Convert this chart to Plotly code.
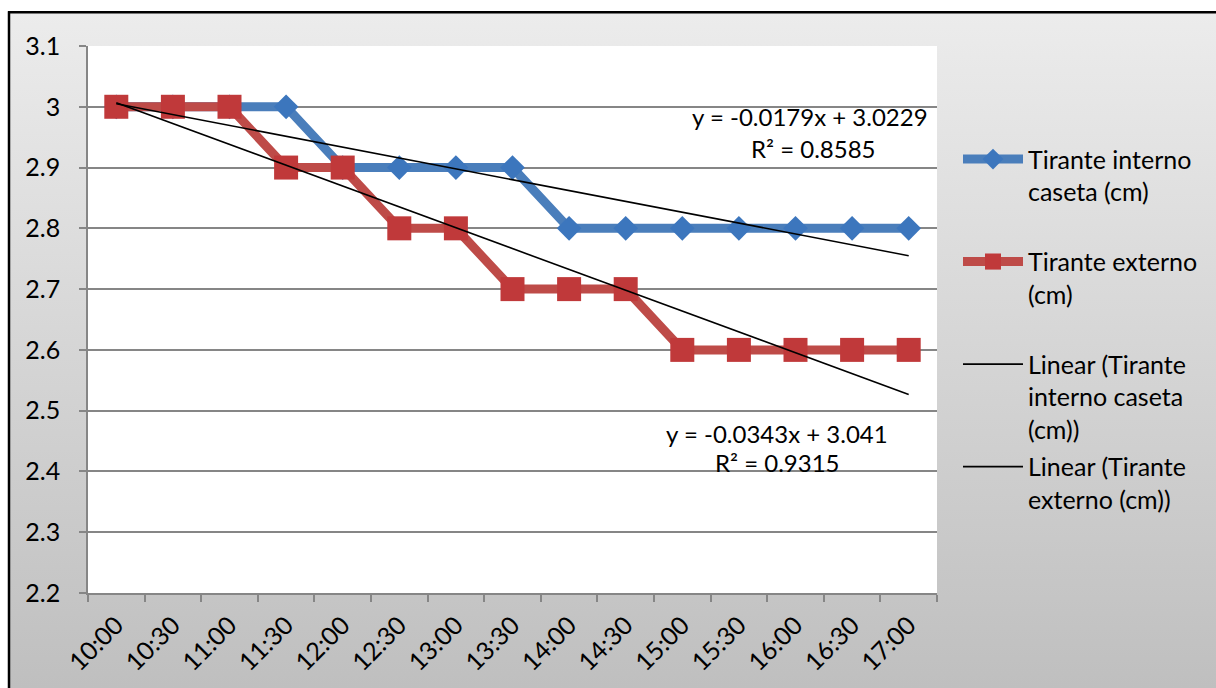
import base64
import numpy as np
import plotly.graph_objects as go

categories = ["10:00", "10:30", "11:00", "11:30", "12:00", "12:30", "13:00", "13:30",
              "14:00", "14:30", "15:00", "15:30", "16:00", "16:30", "17:00"]
interno = [3.0, 3.0, 3.0, 3.0, 2.9, 2.9, 2.9, 2.9, 2.8, 2.8, 2.8, 2.8, 2.8, 2.8, 2.8]
externo = [3.0, 3.0, 3.0, 2.9, 2.9, 2.8, 2.8, 2.7, 2.7, 2.7, 2.6, 2.6, 2.6, 2.6, 2.6]
y_ticks = [2.2, 2.3, 2.4, 2.5, 2.6, 2.7, 2.8, 2.9, 3.0, 3.1]
y_tick_labels = ["2.2", "2.3", "2.4", "2.5", "2.6", "2.7", "2.8", "2.9", "3", "3.1"]

FONT = "Lato"
FS = 25
W, H = 1216, 688
# plot area in screen pixels
L, R, T, B = 88, 937, 46, 597


def px_x(p):
    return (p - L) / (R - L)


def px_y(p):
    return (B - p) / (B - T)


def fit(vals):
    x = np.arange(1, len(vals) + 1)
    y = np.array(vals)
    m, b = np.polyfit(x, y, 1)
    yhat = m * x + b
    r2 = 1 - np.sum((y - yhat) ** 2) / np.sum((y - y.mean()) ** 2)
    return m, b, r2, yhat


def fmt(v):
    return f"{abs(v):.4f}".rstrip("0").rstrip(".")


def eq_text(m, b, r2):
    sign_m = "-" if m < 0 else ""
    sign_b = "+" if b >= 0 else "-"
    return f"y = {sign_m}{fmt(m)}x {sign_b} {fmt(b)}", f"R² = {fmt(r2)}"


m1, b1, r21, t1 = fit(interno)
m2, b2, r22, t2 = fit(externo)

fig = go.Figure()
fig.add_trace(go.Scatter(
    x=categories, y=interno, mode="lines+markers",
    name="Tirante interno<br>caseta (cm)<br> ", legendgroup="a",
    line=dict(color="#4A7EBB", width=9),
    marker=dict(symbol="diamond", size=19, color="#3C76BD"),
))
fig.add_trace(go.Scatter(
    x=categories, y=externo, mode="lines+markers",
    name="Tirante externo<br>(cm)<br> ", legendgroup="b",
    line=dict(color="#BE4B48", width=9),
    marker=dict(symbol="square", size=24, color="#C0393A"),
))
fig.add_trace(go.Scatter(
    x=categories, y=t1, mode="lines",
    name="Linear (Tirante<br>interno caseta<br>(cm))", legendgroup="c",
    line=dict(color="black", width=1.6),
))
fig.add_trace(go.Scatter(
    x=categories, y=t2, mode="lines",
    name="Linear (Tirante<br>externo (cm))", legendgroup="d",
    line=dict(color="black", width=1.6),
))

e1, r1 = eq_text(m1, b1, r21)
e2, r2 = eq_text(m2, b2, r22)
ann_font = dict(family=FONT, size=24, color="black")
annotations = [
    dict(text=e1, x=px_x(930), y=px_y(117), xref="paper", yref="paper",
         xanchor="right", yanchor="middle", showarrow=False, font=ann_font),
    dict(text=r1, x=px_x(813), y=px_y(149), xref="paper", yref="paper",
         xanchor="center", yanchor="middle", showarrow=False, font=ann_font),
    dict(text=e2, x=px_x(777), y=px_y(436), xref="paper", yref="paper",
         xanchor="center", yanchor="middle", showarrow=False, font=ann_font),
    dict(text=r2, x=px_x(777), y=px_y(466), xref="paper", yref="paper",
         xanchor="center", yanchor="middle", showarrow=False, font=ann_font),
]

svg = ('<svg xmlns="http://www.w3.org/2000/svg" width="100" height="100" preserveAspectRatio="none">'
       '<defs><linearGradient id="g" x1="0" y1="0" x2="0" y2="1">'
       '<stop offset="0" stop-color="#ECECEC"/><stop offset="1" stop-color="#BEBEBE"/>'
       '</linearGradient></defs><rect width="100" height="100" fill="url(#g)"/></svg>')
uri = "data:image/svg+xml;base64," + base64.b64encode(svg.encode()).decode()

border = dict(color="black", width=2.5)

fig.update_layout(
    width=W, height=H,
    margin=dict(l=L, r=W - R, t=T, b=H - B),
    paper_bgcolor="white",
    plot_bgcolor="rgba(0,0,0,0)",
    font=dict(family=FONT, size=FS, color="black"),
    showlegend=True,
    legend=dict(
        x=px_x(958), y=px_y(137), xanchor="left", yanchor="top",
        bgcolor="rgba(0,0,0,0)", borderwidth=0,
        font=dict(family=FONT, size=FS, color="black"),
        valign="top", tracegroupgap=2, itemwidth=60,
    ),
    images=[dict(source=uri, xref="paper", yref="paper",
                 x=px_x(8), y=px_y(11), sizex=px_x(W + 20) - px_x(8),
                 sizey=px_y(11) - px_y(H + 20), sizing="stretch",
                 xanchor="left", yanchor="top", layer="below")],
    shapes=[
        dict(type="rect", xref="paper", yref="paper", x0=0, x1=1, y0=0, y1=1,
             fillcolor="white", line=dict(width=0), layer="below"),
        dict(type="line", xref="paper", yref="paper",
             x0=px_x(8), x1=px_x(W + 10), y0=px_y(12), y1=px_y(12),
             line=border, layer="above"),
        dict(type="line", xref="paper", yref="paper",
             x0=px_x(9), x1=px_x(9), y0=px_y(11), y1=px_y(H + 10),
             line=border, layer="above"),
    ],
    annotations=annotations,
    xaxis=dict(
        type="category", range=[-0.5, len(categories) - 0.5],
        showgrid=False, showline=True, linecolor="#868686", linewidth=1.5,
        ticks="outside", tickson="boundaries", ticklen=7, tickcolor="#868686",
        tickwidth=1.5, tickangle=-45, tickfont=dict(family=FONT, size=FS),
        ticklabelstandoff=6, zeroline=False,
    ),
    yaxis=dict(
        range=[2.2, 3.1], tickvals=y_ticks, ticktext=y_tick_labels,
        showgrid=True, gridcolor="#868686", gridwidth=1.5,
        showline=True, linecolor="#868686", linewidth=1.5,
        ticks="outside", ticklen=7, tickcolor="#868686", tickwidth=1.5,
        tickfont=dict(family=FONT, size=FS), ticklabelstandoff=14,
        zeroline=False,
    ),
)

fig.write_html(
    "out.html",
    config={"displayModeBar": False},
    post_script="document.body.style.margin='0';document.body.style.overflow='hidden';",
)
